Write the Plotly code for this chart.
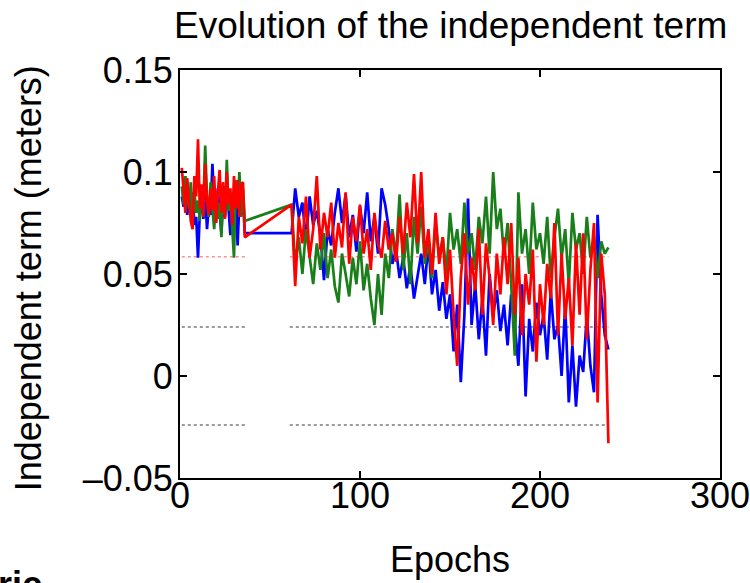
import plotly.graph_objects as go

# Epoker: första blocket (1-36), sedan glapp, andra blocket (62-238, varannan epok)
epochs_a = list(range(1, 37))
epochs_b = list(range(62, 239, 2))
epochs = epochs_a + epochs_b

# Oberoende termen (meter) per serie
blue_a = [0.088, 0.083, 0.092, 0.079, 0.086, 0.081, 0.090, 0.074, 0.078, 0.058,
          0.080, 0.085, 0.077, 0.089, 0.072, 0.083, 0.079, 0.104, 0.086, 0.075,
          0.092, 0.080, 0.070, 0.087, 0.078, 0.094, 0.082, 0.069, 0.085, 0.074,
          0.090, 0.064, 0.086, 0.079, 0.088, 0.070]
blue_b = [0.070, 0.092, 0.078, 0.085, 0.066, 0.088, 0.074, 0.081, 0.069, 0.047,
          0.072, 0.064, 0.080, 0.092, 0.075, 0.089, 0.068, 0.079, 0.061, 0.083,
          0.070, 0.090, 0.066, 0.078, 0.060, 0.092, 0.084, 0.072, 0.055, 0.062,
          0.048, 0.058, 0.043, 0.054, 0.038, 0.050, 0.060, 0.045, 0.065, 0.040,
          0.052, 0.032, 0.046, 0.028, 0.040, 0.012, 0.035, -0.003, 0.030, 0.087,
          0.025, 0.045, 0.018, 0.038, 0.010, 0.050, 0.030, 0.042, 0.022, 0.035,
          0.015, 0.040, 0.025, 0.005, 0.045, -0.010, 0.028, 0.012, 0.036, 0.020,
          0.030, 0.008, 0.042, 0.018, 0.025, 0.000, 0.035, -0.013, 0.015, -0.015,
          0.010, 0.002, 0.030, 0.005, -0.008, 0.079, 0.040, 0.020, 0.013]

green_a = [0.093, 0.084, 0.098, 0.088, 0.082, 0.095, 0.078, 0.090, 0.080, 0.086,
           0.076, 0.092, 0.084, 0.113, 0.087, 0.078, 0.095, 0.082, 0.072, 0.090,
           0.077, 0.085, 0.068, 0.093, 0.079, 0.106, 0.081, 0.088, 0.074, 0.058,
           0.096, 0.083, 0.100, 0.078, 0.092, 0.076]
green_b = [0.084, 0.055, 0.068, 0.050, 0.072, 0.058, 0.045, 0.065, 0.052, 0.070,
           0.048, 0.062, 0.044, 0.036, 0.060, 0.050, 0.039, 0.058, 0.045, 0.066,
           0.042, 0.055, 0.038, 0.025, 0.050, 0.030, 0.060, 0.048, 0.072, 0.058,
           0.089, 0.052, 0.070, 0.045, 0.078, 0.060, 0.083, 0.055, 0.066, 0.048,
           0.075, 0.058, 0.068, 0.050, 0.080, 0.062, 0.072, 0.055, 0.085, 0.060,
           0.070, 0.052, 0.078, 0.065, 0.088, 0.060, 0.100, 0.072, 0.082, 0.058,
           0.075, 0.045, 0.010, 0.090, 0.060, 0.072, 0.050, 0.085, 0.062, 0.070,
           0.055, 0.078, 0.048, 0.068, 0.082, 0.058, 0.072, 0.045, 0.080, 0.062,
           0.070, 0.050, 0.078, 0.058, 0.068, 0.048, 0.066, 0.060, 0.063]

red_a = [0.102, 0.090, 0.080, 0.097, 0.085, 0.076, 0.072, 0.098, 0.088, 0.116,
         0.082, 0.094, 0.078, 0.104, 0.086, 0.079, 0.092, 0.081, 0.098, 0.075,
         0.089, 0.101, 0.080, 0.095, 0.077, 0.100, 0.084, 0.092, 0.074, 0.098,
         0.082, 0.096, 0.078, 0.094, 0.095, 0.068]
red_b = [0.084, 0.044, 0.078, 0.065, 0.088, 0.058, 0.072, 0.098, 0.062, 0.080,
         0.068, 0.085, 0.058, 0.075, 0.063, 0.090, 0.055, 0.078, 0.066, 0.084,
         0.060, 0.072, 0.052, 0.080, 0.065, 0.058, 0.076, 0.062, 0.070, 0.056,
         0.078, 0.060, 0.085, 0.068, 0.099, 0.065, 0.100, 0.058, 0.072, 0.050,
         0.080, 0.055, 0.068, 0.040, 0.062, 0.030, 0.005, 0.048, 0.070, 0.035,
         0.058, 0.042, 0.072, 0.030, 0.065, 0.048, 0.025, 0.060, 0.040, 0.068,
         0.045, 0.075, 0.030, 0.058, 0.020, 0.050, 0.035, 0.062, 0.007, 0.045,
         0.025, 0.055, 0.038, 0.075, 0.020, 0.060, 0.028, 0.048, 0.015, 0.065,
         0.030, 0.070, 0.018, 0.052, 0.075, -0.013, 0.060, 0.040, -0.033]

# Referensnivåer (streckade linjer) och deras epokintervall
limit_level = 0.024
red_ref_level = 0.0585
seg_x = [1, 36, None, 61, 238]

y_ticks = [-0.05, 0, 0.05, 0.1, 0.15]
y_ticktext = ["\u20130.05", "0", "0.05", "0.1", "0.15"]
x_ticks = [0, 100, 200, 300]

FONT = "Liberation Sans, Arial, Helvetica, sans-serif"

fig = go.Figure()

# referenslinjer
for lvl in (limit_level, -limit_level):
    fig.add_trace(go.Scatter(
        x=seg_x, y=[lvl, lvl, None, lvl, lvl], mode="lines",
        line=dict(color="#9a9a9a", width=2, dash="dot"), hoverinfo="skip"))
fig.add_trace(go.Scatter(
    x=seg_x, y=[red_ref_level, red_ref_level, None, red_ref_level, red_ref_level],
    mode="lines", line=dict(color="#ff9090", width=1.5, dash="dot"), hoverinfo="skip"))

# serierna
for vals, col in ((blue_a + blue_b, "#0000ff"),
                  (green_a + green_b, "#1a7f1a"),
                  (red_a + red_b, "#ff0000")):
    fig.add_trace(go.Scatter(x=epochs, y=vals, mode="lines",
                             line=dict(color=col, width=2.7)))

axis_common = dict(
    showline=True, linecolor="black", linewidth=2, mirror="ticks",
    ticks="inside", ticklen=7, tickwidth=1.5, tickcolor="black",
    showgrid=False, zeroline=False, ticklabeloverflow="allow", automargin=False,
    tickfont=dict(family=FONT, size=36, color="black"),
)
fig.update_xaxes(range=[0, 300], tickvals=x_ticks, ticklabelstandoff=-15,
                 **axis_common)
fig.update_yaxes(range=[-0.05, 0.15], tickvals=y_ticks, ticktext=y_ticktext,
                 ticklabelstandoff=-2, **axis_common)

fig.update_layout(
    width=750, height=583,
    margin=dict(l=180, r=30, t=70, b=105),
    plot_bgcolor="white", paper_bgcolor="white",
    showlegend=False,
    font=dict(family=FONT, color="black"),
    annotations=[
        dict(text="Evolution of the independent term", xref="paper", yref="paper",
             x=0.5, y=1.108, xanchor="center", yanchor="middle", showarrow=False,
             font=dict(size=37)),
        dict(text="Independent term (meters)", xref="paper", yref="paper",
             x=-0.281, y=0.49, xanchor="center", yanchor="middle", textangle=-90,
             showarrow=False, font=dict(size=36)),
        dict(text="Epochs", xref="paper", yref="paper",
             x=0.5, y=-0.2, xanchor="center", yanchor="middle", showarrow=False,
             font=dict(size=36)),
        dict(text="<b>ric</b>", xref="paper", yref="paper",
             x=-0.34, y=-0.205, xanchor="left", yanchor="top", showarrow=False,
             font=dict(size=36)),
    ],
)

# sidans standardmarginal (8px) bort så att figuren hamnar i hörnet
fig.write_html("out.html", config={"displayModeBar": False},
               post_script="document.body.style.margin='0';")
